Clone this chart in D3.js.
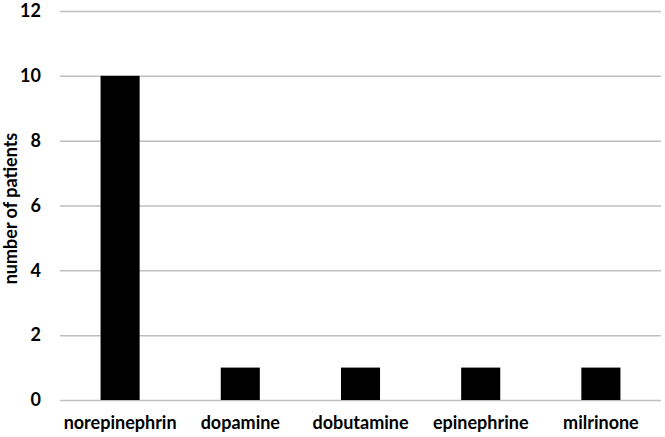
<!DOCTYPE html>
<html lang="en">
<head>
  <meta charset="UTF-8">
  <title>number of patients by drug</title>
  <script src="https://cdn.jsdelivr.net/npm/d3@7"></script>
  <style>
    body { margin: 0; background: #fff; }
    .chart text { font-family: Lato, 'Open Sans', sans-serif; font-weight: bold; fill: #000; }
  </style>
</head>
<body>
  <div class="chart" id="chart"></div>
  <script>
    const drugs = ["norepinephrin", "dopamine", "dobutamine", "epinephrine", "milrinone"];
    const patients = [10, 1, 1, 1, 1];
    const yTicks = [0, 2, 4, 6, 8, 10, 12];

    const w = 665, h = 437;
    const margin = { top: 11, right: 4, bottom: 37, left: 60 };

    const svg = d3.select("#chart").append("svg")
      .attr("width", w)
      .attr("height", h);

    const x = d3.scaleBand()
      .domain(drugs)
      .range([margin.left, w - margin.right])
      .paddingInner(0.675)
      .paddingOuter(0.3375);

    const y = d3.scaleLinear()
      .domain([0, 12])
      .range([h - margin.bottom, margin.top]);

    // grid lines + tick labels
    const yAxis = svg.append("g")
      .attr("transform", "translate(" + margin.left + ",0)")
      .call(d3.axisLeft(y).tickValues(yTicks).tickSize(-(w - margin.left - margin.right)).tickPadding(19));
    yAxis.select(".domain").remove();
    yAxis.selectAll(".tick line").attr("stroke", "#bfbfbf").attr("stroke-width", 1.5);
    yAxis.selectAll(".tick text").style("font-size", "18px");

    svg.selectAll("rect.bar")
      .data(drugs)
      .enter()
      .append("rect")
      .attr("class", "bar")
      .attr("x", d => x(d))
      .attr("width", x.bandwidth())
      .attr("y", (d, i) => y(patients[i]))
      .attr("height", (d, i) => y(0) - y(patients[i]))
      .attr("fill", "#000");

    const xAxis = svg.append("g")
      .attr("transform", "translate(0," + y(0) + ")")
      .call(d3.axisBottom(x).tickSize(0).tickPadding(16));
    xAxis.select(".domain").remove();
    xAxis.selectAll(".tick text").style("font-size", "18px");

    svg.append("text")
      .attr("transform", "translate(17," + (y(6) + 3) + ") rotate(-90)")
      .attr("text-anchor", "middle")
      .style("font-size", "18px")
      .text("number of patients");
  </script>
</body>
</html>
